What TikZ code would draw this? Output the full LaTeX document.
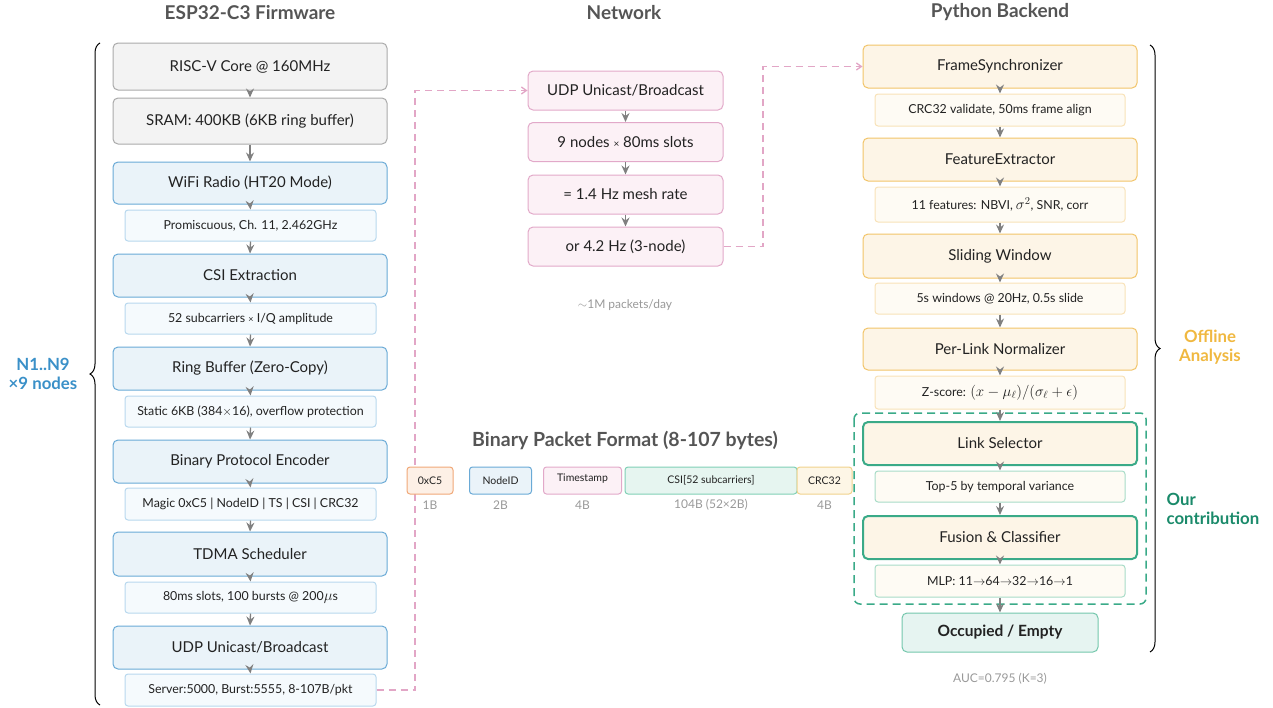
\RequirePackage{fix-cm}
\documentclass[tikz,border=0pt]{standalone}
\usepackage{fontspec}
\setmainfont{Lato}
\usetikzlibrary{arrows.meta,decorations.pathreplacing,calc}
\newcommand{\mth}[1]{{\fontsize{15}{15}\selectfont$#1$}}
\definecolor{txt}{HTML}{222222}
\definecolor{ttl}{HTML}{555555}
\definecolor{grayF}{HTML}{F3F3F3}
\definecolor{grayB}{HTML}{AAAAAA}
\definecolor{blueF}{HTML}{EAF3F9}
\definecolor{blueB}{HTML}{6AAAD6}
\definecolor{blueSF}{HTML}{F5FAFD}
\definecolor{blueSB}{HTML}{B8D8EE}
\definecolor{pinkF}{HTML}{FCF1F6}
\definecolor{pinkB}{HTML}{E2A9C9}
\definecolor{oraF}{HTML}{FDF5E7}
\definecolor{oraB}{HTML}{F2C469}
\definecolor{oraSF}{HTML}{FEFBF4}
\definecolor{oraSB}{HTML}{F8E2B8}
\definecolor{grn}{HTML}{3AAA88}
\definecolor{grnS}{HTML}{A8DCC8}
\definecolor{occF}{HTML}{E6F4F1}
\definecolor{occB}{HTML}{74C7AC}
\definecolor{arr}{HTML}{808080}
\definecolor{dashp}{HTML}{E2A6C6}
\definecolor{lbl}{HTML}{999999}
\definecolor{nblue}{HTML}{3A90C8}
\definecolor{offo}{HTML}{F0B840}
\definecolor{ourg}{HTML}{1A8A6A}
\definecolor{pkO}{HTML}{F0A878}\definecolor{pkOF}{HTML}{FDF0E6}
\definecolor{pkG}{HTML}{80D0B6}\definecolor{pkGF}{HTML}{E6F5F0}
\definecolor{pkY}{HTML}{F0D28C}\definecolor{pkYF}{HTML}{FDF6E6}
\begin{document}
\begin{tikzpicture}[x=1pt,y=-1pt,
  box/.style={draw, rounded corners=5pt, line width=1pt, align=center, inner sep=0pt, text=txt},
  mainfont/.style={font=\fontsize{15}{17}\selectfont},
  subfont/.style={font=\fontsize{12.4}{14}\selectfont},
  graybox/.style={box, mainfont, draw=grayB, fill=grayF, minimum width=274pt},
  bluebox/.style={box, mainfont, draw=blueB, fill=blueF, minimum width=274pt},
  bluesub/.style={box, subfont, draw=blueSB, fill=blueSF, minimum width=251pt, rounded corners=3pt},
  pinkbox/.style={box, mainfont, draw=pinkB, fill=pinkF, minimum width=195pt, minimum height=39pt},
  orabox/.style={box, mainfont, draw=oraB, fill=oraF, minimum width=274pt},
  orasub/.style={box, subfont, draw=oraSB, fill=oraSF, minimum width=250pt, rounded corners=3pt},
  grnbox/.style={box, mainfont, draw=grn, line width=2pt, fill=oraF, minimum width=274pt},
  grnsub/.style={box, subfont, draw=grnS, fill=oraSF, minimum width=250pt, rounded corners=3pt},
  pkt/.style={draw, rounded corners=3pt, line width=1pt, inner sep=0pt, text=txt, font=\fontsize{10.5}{12}\selectfont, minimum height=27pt},
  pktlbl/.style={text=lbl, font=\fontsize{12}{14}\selectfont},
  coltitle/.style={text=ttl, font=\fontsize{19}{22}\selectfont\bfseries},
  flow/.style={draw=arr, line width=1.3pt, -{Stealth[length=9pt,width=8pt,inset=3pt]}},
  link/.style={draw=dashp, line width=1.3pt, dash pattern=on 7pt off 5pt, -{Straight Barb[length=5pt,width=7pt]}},
  sidebrace/.style={draw=black, line width=1pt, decorate, decoration={brace, amplitude=10pt}},
  sidetxt/.style={font=\fontsize{16.8}{19}\selectfont\bfseries, align=center}
]
\useasboundingbox (0,0) rectangle (1273,707);

% column titles
\node[coltitle] (t1) at (250,13) {ESP32-C3 Firmware};
\node[coltitle] (t2) at (624,13) {Network};
\node[coltitle] (t3) at (1000,12) {Python Backend};

% left column
\node[graybox, minimum height=47pt] (risc) at (250,66.5) {RISC-V Core @ 160MHz};
\node[graybox, minimum height=46pt] (sram) at (250,121) {SRAM: 400KB (6KB ring buffer)};
\node[bluebox, minimum height=42pt] (wifi) at (250,183) {WiFi Radio (HT20 Mode)};
\node[bluesub, minimum height=31pt] (prom) at (250.5,225.5) {Promiscuous, Ch. 11, 2.462GHz};
\node[bluebox, minimum height=43pt] (csi) at (250,275.5) {CSI Extraction};
\node[bluesub, minimum height=31pt] (sub52) at (250.5,318.5) {52 subcarriers {\fontsize{9}{10}\selectfont×} I/Q amplitude};
\node[bluebox, minimum height=43pt] (ring) at (250,368.5) {Ring Buffer (Zero-Copy)};
\node[bluesub, minimum height=31pt] (stat) at (250.5,411.5) {Static 6KB (384$\times$16), overflow protection};
\node[bluebox, minimum height=43pt] (bpe) at (250,461.5) {Binary Protocol Encoder};
\node[bluesub, minimum height=32pt] (magic) at (250.5,504) {Magic 0xC5 | NodeID | TS | CSI | CRC32};
\node[bluebox, minimum height=44pt] (tdma) at (250,554) {TDMA Scheduler};
\node[bluesub, minimum height=31pt] (slots) at (250.5,597.5) {80ms slots, 100 bursts @ 200\mth{\mu}s};
\node[bluebox, minimum height=43pt] (udpl) at (250,647.5) {UDP Unicast/Broadcast};
\node[bluesub, minimum height=32pt] (srv) at (250.5,690) {Server:5000, Burst:5555, 8-107B/pkt};

\foreach \a/\b in {risc/sram,sram/wifi,wifi/prom,prom/csi,csi/sub52,sub52/ring,ring/stat,stat/bpe,bpe/magic,magic/tdma,tdma/slots,slots/udpl,udpl/srv}
  \draw[flow] (\a.south) -- (\b.north);

\draw[sidebrace] (100,705) -- (100,43);
\node[sidetxt, text=nblue] (nlab) at (43,374) {N1..N9\\×9 nodes};

% middle column
\node[pinkbox] (udpn) at (625.5,90.5) {UDP Unicast/Broadcast};
\node[pinkbox] (nine) at (625.5,142) {9 nodes {\fontsize{10}{10}\selectfont×} 80ms slots};
\node[pinkbox] (mesh) at (625.5,194.5) {= 1.4 Hz mesh rate};
\node[pinkbox] (or42) at (625.5,246.5) {or 4.2 Hz (3-node)};
\foreach \a/\b in {udpn/nine,nine/mesh,mesh/or42}
  \draw[flow] (\a.south) -- (\b.north);
\node[pktlbl] (pday) at (625,305) {$\sim$1M packets/day};

% right column
\node[orabox, minimum height=43pt] (fs) at (1000,66.5) {FrameSynchronizer};
\node[orasub, minimum height=32pt] (crc) at (1000,110) {CRC32 validate, 50ms frame align};
\node[orabox, minimum height=43pt] (fe) at (1000,159.5) {FeatureExtractor};
\node[orasub, minimum height=35pt] (feat) at (1000,204.5) {11 features: NBVI, \mth{\sigma^2}, SNR, corr};
\node[orabox, minimum height=44pt] (sw) at (1000,256) {Sliding Window};
\node[orasub, minimum height=31pt] (win) at (1000,298.5) {5s windows @ 20Hz, 0.5s slide};
\node[orabox, minimum height=42pt] (pln) at (1000,349) {Per-Link Normalizer};
\node[orasub, minimum height=33pt] (zs) at (1000,392.5) {Z-score: \mth{(x-\mu_\ell)/(\sigma_\ell+\epsilon)}};
\node[grnbox, minimum height=43pt] (ls) at (1000,443.5) {Link Selector};
\node[grnsub, minimum height=31pt] (top5) at (1000,486.5) {Top-5 by temporal variance};
\node[grnbox, minimum height=43pt] (fus) at (1000,537.5) {Fusion \& Classifier};
\node[grnsub, minimum height=32pt] (mlp) at (1000,581) {MLP: 11$\to$64$\to$32$\to$16$\to$1};
\node[box, draw=occB, fill=occF, minimum width=196pt, minimum height=39pt, font=\fontsize{15.5}{17}\selectfont\bfseries] (occ) at (1000,632.5) {Occupied / Empty};
\node[pktlbl] (auc) at (1000,679) {AUC=0.795 (K=3)};

\draw[grn, line width=1.5pt, dash pattern=on 8pt off 5pt, rounded corners=6pt] (854,413) rectangle (1146,604);

\foreach \a/\b in {fs/crc,crc/fe,fe/feat,feat/sw,sw/win,win/pln,pln/zs,zs/ls,ls/top5,top5/fus,fus/mlp,mlp/occ}
  \draw[flow] (\a.south) -- (\b.north);

\draw[sidebrace] (1150,45) -- (1150,652);
\node[sidetxt, text=offo] (olab) at (1210,347) {Offline\\Analysis};
\node[sidetxt, text=ourg, align=left, anchor=west] (clab) at (1163,509) {Our\\contribution};

% connectors
\coordinate (k1) at (415,0);
\coordinate (k2) at (763,0);
\draw[link] (srv.east) -| (k1 |- udpn.west) -- (udpn.west);
\draw[link] (or42.east) -| (k2 |- fs.west) -- (fs.west);

% packet format
\node[text=ttl, font=\fontsize{19.5}{22}\selectfont\bfseries] (ptitle) at (625,440) {Binary Packet Format (8-107 bytes)};
\node[pkt, draw=pkO, fill=pkOF, minimum width=46pt] (p1) at (430,480.5) {0xC5};
\node[pkt, draw=blueB, fill=blueF, minimum width=62pt] (p2) at (500.5,480.5) {NodeID};
\node[pkt, draw=pinkB, fill=pinkF, minimum width=78pt, text depth=6pt] (p3) at (582.5,480.5) {Timestamp};
\node[pkt, draw=pkG, fill=pkGF, minimum width=172pt] (p4) at (711,480.5) {CSI[52 subcarriers]};
\node[pkt, draw=pkY, fill=pkYF, minimum width=55pt] (p5) at (824.5,480.5) {CRC32};
\node[pktlbl] (l1) at (430,505) {1B};
\node[pktlbl] (l2) at (500.5,505) {2B};
\node[pktlbl] (l3) at (582.5,505) {4B};
\node[pktlbl] (l4) at (711,505) {104B (52×2B)};
\node[pktlbl] (l5) at (824.5,505) {4B};
\end{tikzpicture}
\end{document}
